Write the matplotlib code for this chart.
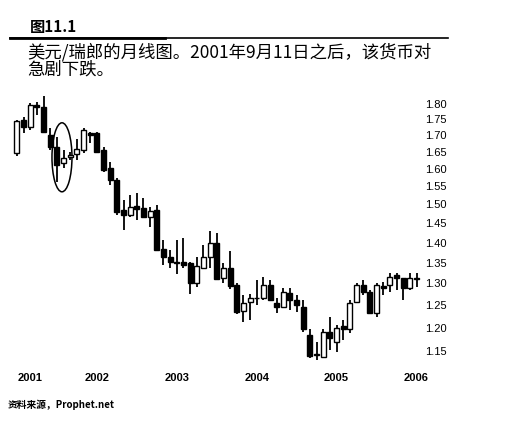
import matplotlib
matplotlib.use('Agg')
import matplotlib.pyplot as plt
import numpy as np
from matplotlib.patches import Ellipse
from matplotlib.transforms import ScaledTranslation
from matplotlib.ticker import NullLocator, FixedLocator, FormatStrFormatter

# USD/CHF monthly candles, Jan 2001 .. Jan 2006
opens = [1.646, 1.748, 1.726, 1.797, 1.790, 1.700, 1.664, 1.617, 1.634, 1.643,
         1.655, 1.707, 1.707, 1.655, 1.603, 1.568, 1.485, 1.472, 1.496, 1.491,
         1.466, 1.485, 1.383, 1.365, 1.351, 1.351, 1.348, 1.301, 1.338, 1.363,
         1.398, 1.312, 1.338, 1.296, 1.237, 1.257, 1.266, 1.266, 1.296, 1.255,
         1.246, 1.278, 1.262, 1.246, 1.185, 1.142, 1.137, 1.191, 1.170, 1.204,
         1.196, 1.257, 1.296, 1.280, 1.233, 1.294, 1.296, 1.319, 1.312, 1.289,
         1.311]
highs = [1.748, 1.758, 1.803, 1.807, 1.826, 1.723, 1.694, 1.655, 1.649, 1.688,
         1.723, 1.710, 1.710, 1.664, 1.620, 1.574, 1.512, 1.526, 1.532, 1.518,
         1.493, 1.498, 1.406, 1.380, 1.406, 1.411, 1.351, 1.363, 1.393, 1.430,
         1.424, 1.348, 1.378, 1.301, 1.273, 1.276, 1.308, 1.315, 1.308, 1.266,
         1.289, 1.289, 1.273, 1.262, 1.196, 1.168, 1.196, 1.224, 1.206, 1.217,
         1.262, 1.301, 1.308, 1.285, 1.301, 1.303, 1.326, 1.324, 1.312, 1.324,
         1.324]
lows = [1.637, 1.707, 1.716, 1.765, 1.707, 1.655, 1.563, 1.603, 1.626, 1.626,
        1.646, 1.676, 1.646, 1.592, 1.554, 1.472, 1.432, 1.466, 1.458, 1.466,
        1.440, 1.380, 1.343, 1.338, 1.322, 1.336, 1.276, 1.292, 1.336, 1.338,
        1.308, 1.301, 1.287, 1.230, 1.213, 1.217, 1.250, 1.262, 1.260, 1.233,
        1.244, 1.239, 1.235, 1.191, 1.135, 1.131, 1.135, 1.152, 1.148, 1.174,
        1.189, 1.255, 1.273, 1.233, 1.224, 1.273, 1.280, 1.285, 1.262, 1.285,
        1.292]
closes = [1.745, 1.726, 1.797, 1.790, 1.710, 1.664, 1.611, 1.631, 1.640, 1.658,
          1.716, 1.700, 1.649, 1.597, 1.568, 1.480, 1.472, 1.493, 1.488, 1.466,
          1.483, 1.380, 1.363, 1.351, 1.350, 1.343, 1.301, 1.341, 1.363, 1.398,
          1.310, 1.338, 1.294, 1.235, 1.255, 1.266, 1.267, 1.296, 1.262, 1.246,
          1.280, 1.262, 1.250, 1.196, 1.140, 1.144, 1.191, 1.178, 1.200, 1.196,
          1.255, 1.296, 1.280, 1.233, 1.296, 1.289, 1.315, 1.312, 1.289, 1.312,
          1.313]

year_pos = [2, 12, 24, 36, 48, 60]
year_labels = ['2001', '2002', '2003', '2004', '2005', '2006']
price_ticks = [1.15, 1.20, 1.25, 1.30, 1.35, 1.40, 1.45, 1.50, 1.55, 1.60,
               1.65, 1.70, 1.75, 1.80]

cjk = ['Noto Sans CJK SC', 'DejaVu Sans']
W, H = 516, 426

fig = plt.figure(figsize=(W / 100, H / 100), dpi=100)
fig.patch.set_facecolor('white')
ax = fig.add_axes([10.3 / W, 1 - 365 / H, 416.2 / W, 275 / H])
ax.set_yscale('log')

x = np.arange(len(opens))
o = np.array(opens)
c = np.array(closes)
up = c >= o

# wicks first, bodies on top
ax.vlines(x, lows, highs, color='black', lw=1.3, zorder=1)
bot = np.minimum(o, c)
hgt = np.abs(c - o)
ax.bar(x[up], hgt[up], bottom=bot[up], width=0.75, facecolor='white',
       edgecolor='black', lw=1.0, zorder=2)
ax.bar(x[~up], hgt[~up], bottom=bot[~up], width=0.75, facecolor='black',
       edgecolor='black', lw=1.0, zorder=2)

ax.set_xlim(-1, 61.5)
ax.set_ylim(1.1213, 1.846)

ax.yaxis.tick_right()
ax.yaxis.set_major_locator(FixedLocator(price_ticks))
ax.yaxis.set_minor_locator(NullLocator())
ax.yaxis.set_major_formatter(FormatStrFormatter('%.2f'))
ax.tick_params(axis='y', length=0, pad=-1, labelsize=8)
for lab in ax.get_yticklabels():
    lab.set_fontfamily('Liberation Sans')

ax.set_xticks(year_pos)
ax.set_xticklabels(year_labels, fontfamily='Liberation Sans', fontweight='bold', fontsize=8)
ax.tick_params(axis='x', length=0, pad=6)

for s in ax.spines.values():
    s.set_visible(False)
ax.patch.set_alpha(0)

# circle around the Sept 2001 bars
ell = Ellipse((0, 0), width=0.20, height=0.69, fill=False, edgecolor='black', lw=1.1,
              transform=fig.dpi_scale_trans + ScaledTranslation(6.76, 1.634, ax.transData))
ax.add_artist(ell)

# header
fig.text(30 / W, 1 - 27 / H, '图11.1', family=cjk, fontweight='bold', fontsize=11,
         ha='left', va='center')
fig.add_artist(plt.Line2D([10 / W, 448 / W], [1 - 38 / H, 1 - 38 / H], color='black', lw=1.2,
                          transform=fig.transFigure))
fig.add_artist(plt.Line2D([10 / W, 165 / W], [1 - 38 / H, 1 - 38 / H], color='black', lw=2.0,
                          transform=fig.transFigure))
fig.text(27 / W, 1 - 52 / H, '美元/瑞郎的月线图。2001年9月11日之后，该货币对',
         family=cjk, fontsize=12.5, ha='left', va='center')
fig.text(27 / W, 1 - 70 / H, '急剧下跌。', family=cjk, fontsize=12.5, ha='left', va='center')

fig.text(8 / W, 1 - 405 / H, '资料来源，Prophet.net', family=cjk, fontweight='bold',
         fontsize=7, ha='left', va='center')

fig.savefig('out.png', dpi=100, facecolor='white')
